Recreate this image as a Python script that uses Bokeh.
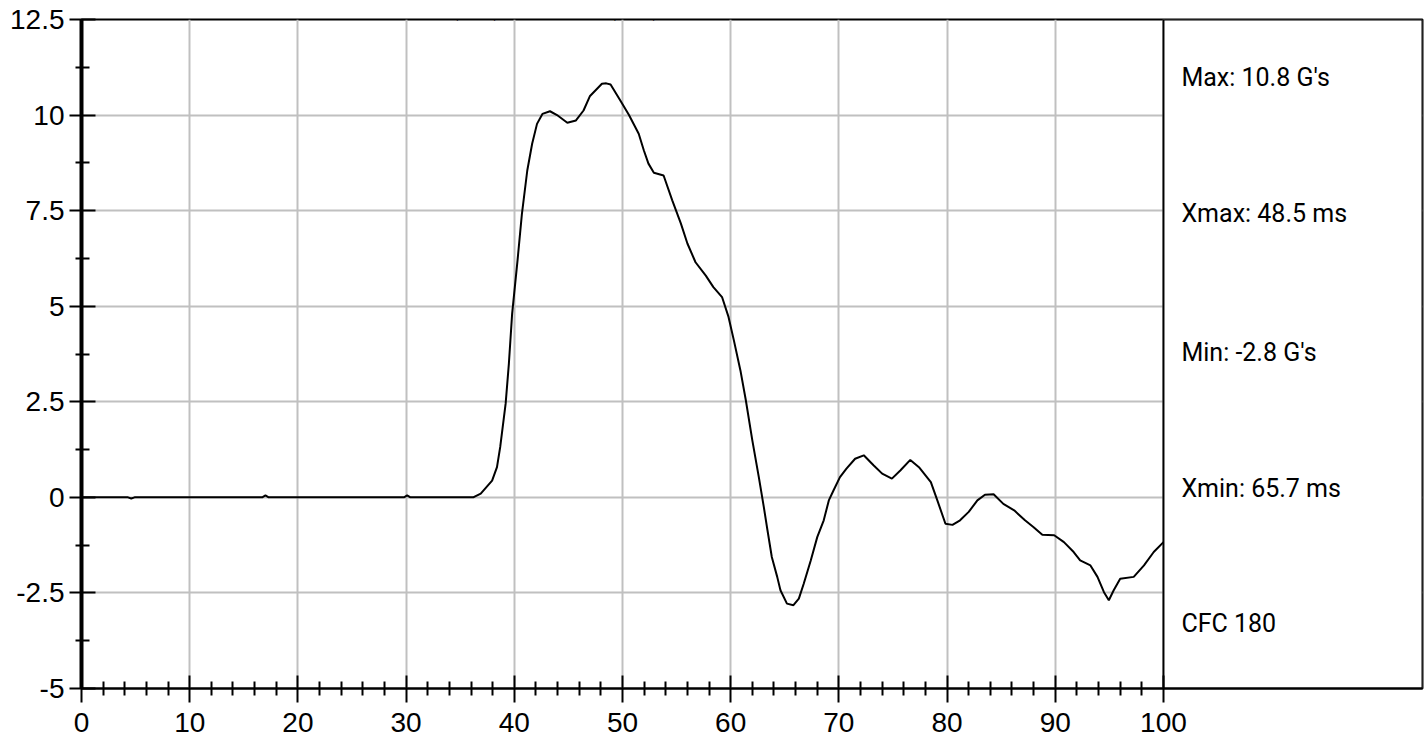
from bokeh.plotting import figure
from bokeh.models import FixedTicker, Label, Range1d
from bokeh.embed import file_html
from bokeh.resources import INLINE

# ---- data ----
time_ms = [0, 4.3, 4.6, 4.9, 16.7, 17.0, 17.3, 29.8, 30.1, 30.4, 36.2, 36.9, 37.95, 38.4,
           38.7, 39.2, 39.5, 39.8, 40.3, 40.7, 41.2, 41.65, 42.1, 42.6, 43.3, 43.95, 44.9,
           45.7, 46.4, 47.0, 48.1, 48.5, 48.9, 49.8, 50.6, 51.5, 51.97, 52.4, 52.9, 53.8,
           54.6, 55.4, 56.0, 56.75, 57.7, 58.4, 59.2, 59.8, 60.3, 60.9, 61.4, 62.0, 62.6,
           63.06, 63.4, 63.8, 64.3, 64.6, 65.2, 65.8, 66.3, 66.75, 67.4, 68.0, 68.6, 69.07,
           69.5, 70.1, 70.7, 71.5, 72.3, 73.2, 74.0, 74.9, 75.7, 76.6, 77.4, 78.5, 79.1,
           79.85, 80.5, 81.2, 82.0, 82.8, 83.5, 84.3, 85.2, 86.2, 87.2, 88.0, 88.8, 89.9,
           90.8, 91.7, 92.3, 93.25, 93.9, 94.5, 94.95, 95.4, 96.0, 97.25, 98.2, 99.1, 100.0]
accel_g = [0, 0, -0.03, 0, 0, 0.05, 0, 0, 0.05, 0, 0, 0.1, 0.44, 0.79,
           1.32, 2.45, 3.5, 4.8, 6.2, 7.4, 8.55, 9.25, 9.77, 10.03, 10.1, 10.0, 9.8,
           9.86, 10.12, 10.5, 10.82, 10.83, 10.8, 10.38, 10.0, 9.51, 9.08, 8.73, 8.49, 8.42,
           7.77, 7.16, 6.64, 6.15, 5.8, 5.5, 5.24, 4.72, 4.1, 3.32, 2.54, 1.49, 0.53,
           -0.25, -0.86, -1.56, -2.08, -2.43, -2.78, -2.82, -2.65, -2.26, -1.65, -1.04, -0.60, -0.08,
           0.18, 0.53, 0.75, 1.01, 1.10, 0.84, 0.62, 0.49, 0.71, 0.98, 0.79, 0.40, -0.08,
           -0.69, -0.72, -0.60, -0.38, -0.08, 0.07, 0.08, -0.17, -0.34, -0.60, -0.78, -0.98, -0.99,
           -1.17, -1.43, -1.65, -1.78, -2.08, -2.48, -2.69, -2.43, -2.13, -2.08, -1.78, -1.43, -1.17]

x_ticks = [0, 10, 20, 30, 40, 50, 60, 70, 80, 90, 100]
x_minor = [v for v in range(0, 101, 2) if v % 10 != 0]
y_ticks = [-5, -2.5, 0, 2.5, 5, 7.5, 10, 12.5]
y_tick_labels = ["-5", "-2.5", "0", "2.5", "5", "7.5", "10", "12.5"]
y_minor = [-3.75, -1.25, 1.25, 3.75, 6.25, 8.75, 11.25]

title_text = "LOWER SPINE ACCELERATION (G's) vs TIME (ms)"
stats_text = ["Max: 10.8 G's", "Xmax: 48.5 ms", "Min: -2.8 G's", "Xmin: 65.7 ms", "CFC 180"]
stats_y = [10.98, 7.43, 3.79, 0.23, -3.3]

X_MAX_DATA = 100
X_PANEL_END = 123.94
Y_MIN, Y_MAX = -5, 12.5

NARROW = "Roboto"
REG = "Liberation Sans"

p = figure(width=1426, height=756, output_backend="svg", toolbar_location=None,
           x_range=Range1d(0, X_PANEL_END), y_range=Range1d(Y_MIN, Y_MAX),
           min_border_left=81, min_border_right=4, min_border_top=35, min_border_bottom=52,
           styles={"margin-top": "-16px", "margin-bottom": "-12px"})
p.background_fill_color = "white"
p.border_fill_color = "white"
p.outline_line_color = "black"
p.outline_line_width = 2

# grid
p.xgrid.ticker = FixedTicker(ticks=x_ticks)
p.ygrid.ticker = FixedTicker(ticks=y_ticks)
for g in (p.xgrid, p.ygrid):
    g.grid_line_color = "#c0c0c0"
    g.grid_line_width = 2

# x axis
xa = p.xaxis[0]
xa.ticker = FixedTicker(ticks=x_ticks, minor_ticks=x_minor)
xa.axis_line_width = 2
xa.major_tick_line_width = 2
xa.minor_tick_line_width = 2
xa.major_tick_in = 13
xa.major_tick_out = 14
xa.minor_tick_in = 7
xa.minor_tick_out = 7
xa.major_label_text_font = REG
xa.major_label_text_font_size = "28px"
xa.major_label_text_color = "black"
xa.major_label_standoff = 10

# y axis
ya = p.yaxis[0]
ya.ticker = FixedTicker(ticks=y_ticks, minor_ticks=y_minor)
ya.major_label_overrides = {t: s for t, s in zip(y_ticks, y_tick_labels)}
ya.axis_line_width = 4
ya.major_tick_line_width = 2
ya.minor_tick_line_width = 2
ya.major_tick_in = 14
ya.major_tick_out = 12
ya.minor_tick_in = 8
ya.minor_tick_out = 6
ya.major_label_text_font = REG
ya.major_label_text_font_size = "28px"
ya.major_label_text_color = "black"
ya.major_label_standoff = 5

# data curve
p.line(time_ms, accel_g, line_color="black", line_width=2)

# side statistics panel
p.quad(left=[X_MAX_DATA], right=[X_PANEL_END], bottom=[Y_MIN], top=[Y_MAX],
       fill_color="white", line_color="black", line_width=2)

for txt, yy in zip(stats_text, stats_y):
    p.add_layout(Label(x=101.66, y=yy, text=txt, text_baseline="middle", text_align="left",
                       text_font=NARROW, text_font_size="25px", text_color="black"))

p.add_layout(Label(x=0.65, y=12.866, text=title_text, text_baseline="alphabetic",
                   text_align="left", text_font=NARROW, text_font_size="26px",
                   text_color="black"))

open("out.html", "w").write(file_html(p, INLINE))
